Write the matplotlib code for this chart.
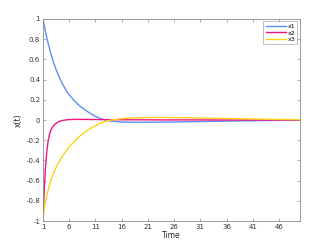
import matplotlib
matplotlib.use("Agg")
import matplotlib.pyplot as plt

# values
time = [1, 1.1, 1.25, 1.5, 1.75, 2, 2.25, 2.5, 2.75, 3, 3.5, 4, 4.5, 5, 5.5,
        6, 7, 8, 9, 10, 11, 12, 13, 14, 16, 18, 20, 23, 26, 30, 35, 40, 45, 50]
x1 = [1.0, 0.973, 0.933, 0.87, 0.81, 0.755, 0.705, 0.658, 0.614, 0.573,
      0.499, 0.435, 0.379, 0.33, 0.287, 0.25, 0.188, 0.14, 0.1, 0.066, 0.037,
      0.013, -0.002, -0.011, -0.019, -0.022, -0.022, -0.021, -0.019, -0.016,
      -0.012, -0.008, -0.004, -0.002]
x2 = [-1.0, -0.85, -0.68, -0.45, -0.30, -0.20, -0.14, -0.10, -0.075, -0.056,
      -0.032, -0.017, -0.008, -0.002, 0.002, 0.004, 0.006, 0.006, 0.006,
      0.005, 0.005, 0.004, 0.004, 0.003, 0.003, 0.002, 0.002, 0.001, 0.001,
      0.001, 0.0, 0.0, 0.0, 0.0]
x3 = [-1.0, -0.94, -0.87, -0.80, -0.74, -0.69, -0.64, -0.60, -0.56, -0.53,
      -0.47, -0.42, -0.375, -0.335, -0.30, -0.265, -0.21, -0.16, -0.12,
      -0.085, -0.055, -0.03, -0.012, 0.0, 0.013, 0.02, 0.024, 0.025, 0.024,
      0.021, 0.016, 0.011, 0.006, 0.003]

series = [("x1", x1, "#5b8ff5"), ("x2", x2, "#f0147f"), ("x3", x3, "#ffd21a")]
xticks = [1, 6, 11, 16, 21, 26, 31, 36, 41, 46]
yticks = [-1, -0.8, -0.6, -0.4, -0.2, 0, 0.2, 0.4, 0.6, 0.8, 1]

fig = plt.figure(figsize=(3.32, 2.49), dpi=100)
ax = fig.add_axes([0.1295, 0.1124, 0.7741, 0.8113])

for name, ys, col in series:
    ax.plot(time, ys, color=col, lw=1.0, label=name)

ax.set_xlim(1, 50)
ax.set_ylim(-1, 1)
ax.set_xticks(xticks)
ax.set_yticks(yticks)
ax.set_yticklabels([f"{v:g}" for v in yticks])

axcol = "#8c8c8c"
for s in ax.spines.values():
    s.set_color(axcol)
    s.set_linewidth(0.6)
ax.tick_params(direction="in", length=2.5, width=0.5, colors=axcol,
               labelcolor="#333333", labelsize=5, top=True, right=True, pad=2)

ax.set_xlabel("Time", fontsize=5.5, color="#262626", labelpad=1)
ax.set_ylabel("x(t)", fontsize=5.5, color="#262626", labelpad=3)

leg = ax.legend(loc="upper right", fontsize=4.5, frameon=True, fancybox=False,
                handlelength=3.2, handletextpad=0.3, borderpad=0.35,
                labelspacing=0.2, borderaxespad=0.4)
leg.get_frame().set_edgecolor(axcol)
leg.get_frame().set_linewidth(0.5)

fig.savefig("out.png", dpi=100)
